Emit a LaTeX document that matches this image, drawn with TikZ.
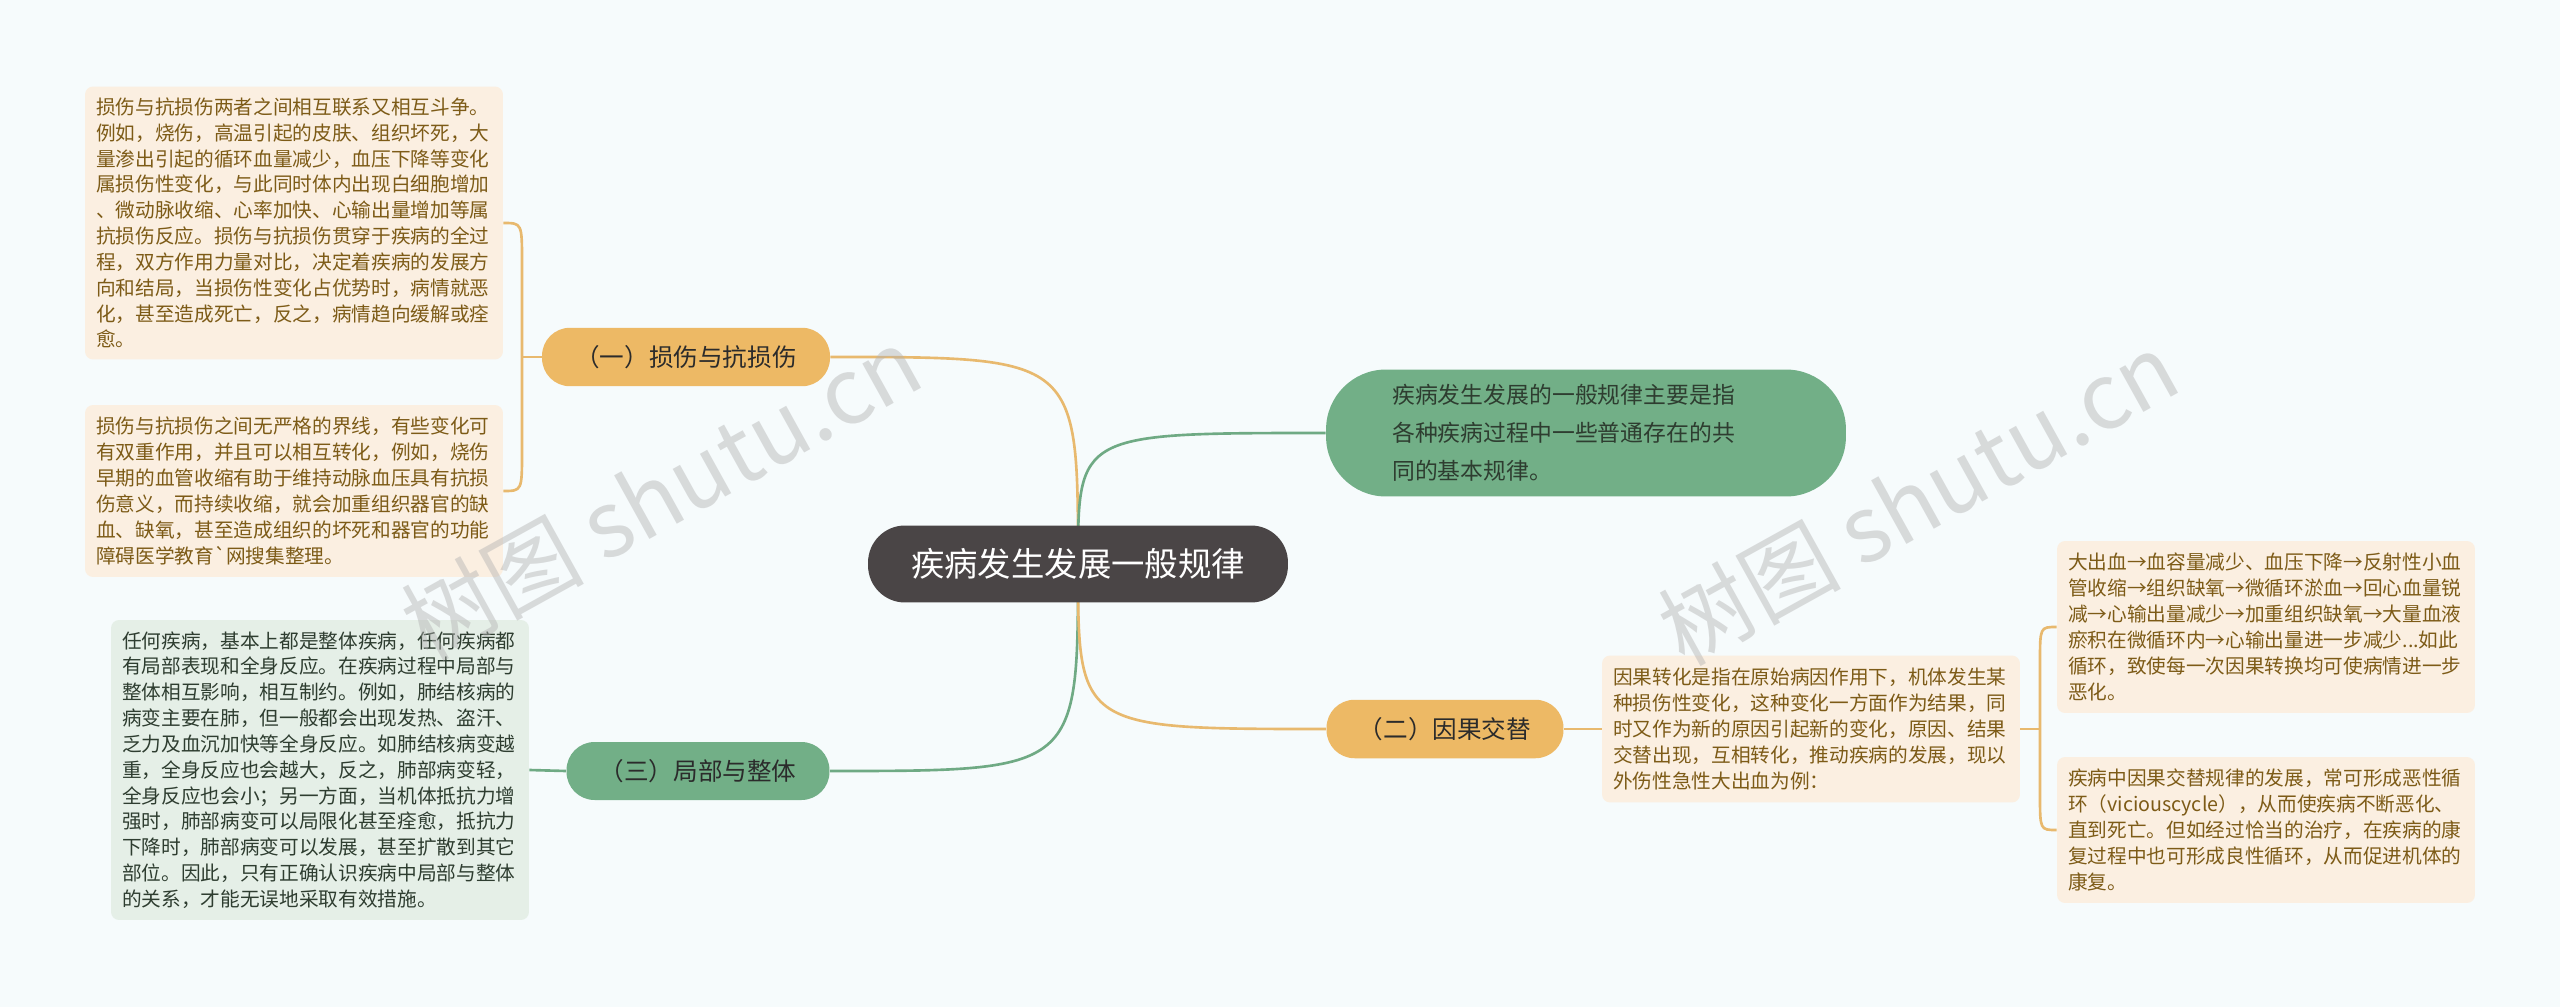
\documentclass[tikz,border=0pt]{standalone}
\usepackage{fontspec}
\setmainfont{Noto Sans CJK SC}
\usetikzlibrary{backgrounds}
\definecolor{bgc}{HTML}{F6FBFC}
\definecolor{rootc}{HTML}{4A4546}
\definecolor{orc}{HTML}{EDB965}
\definecolor{grc}{HTML}{72AF87}
\definecolor{orline}{HTML}{E8B96E}
\definecolor{grline}{HTML}{6FAA84}
\definecolor{leaforfill}{HTML}{FBEFE1}
\definecolor{leafortext}{HTML}{7D5B17}
\definecolor{leafgrfill}{HTML}{E5EFE7}
\definecolor{leafgrtext}{HTML}{2E3D30}
\definecolor{topictext}{HTML}{2B2B2B}

\begin{document}
\begin{tikzpicture}[x=0.02cm,y=-0.02cm,
  root/.style={fill=rootc,text=white,rounded corners=0.74cm,minimum width=8.4cm,minimum height=1.54cm,inner sep=0pt,font=\fontsize{19pt}{23pt}\selectfont},
  topicor/.style={fill=orc,text=topictext,rounded corners=0.56cm,minimum height=1.17cm,inner sep=0pt,font=\fontsize{14pt}{17pt}\selectfont},
  topicgr/.style={fill=grc,text=topictext,rounded corners=0.56cm,minimum height=1.16cm,inner sep=0pt,font=\fontsize{14pt}{17pt}\selectfont},
  leafor/.style={fill=leaforfill,text=leafortext,rounded corners=0.16cm,text width=7.92cm,inner xsep=0.22cm,inner ysep=0pt,align=left,font=\fontsize{11.2pt}{14.7pt}\selectfont},
  leafgr/.style={leafor,fill=leafgrfill,text=leafgrtext},
  lnor/.style={draw=orline,line width=1.5pt},
  lngr/.style={draw=grline,line width=1.5pt},
  mark text/.style={text=gray!60,opacity=0.45,rotate=29,font=\fontsize{52pt}{60pt}\selectfont}]

\begin{scope}[on background layer]
\useasboundingbox[fill=bgc] (0,0) rectangle (2560,1007);
\end{scope}

\node[root] (law) at (1078,564) {疾病发生发展一般规律};

\node[topicor,minimum width=5.76cm] (harm) at (686,357) {（一）损伤与抗损伤};
\node[topicor,minimum width=4.74cm] (cause) at (1445,729) {（二）因果交替};
\node[topicgr,minimum width=5.26cm] (whole) at (698,771) {（三）局部与整体};
\node[fill=grc,text=leafgrtext,rounded corners=1.2cm,minimum width=10.4cm,minimum height=2.54cm,text width=7.75cm,align=left,font=\fontsize{13pt}{21.6pt}\selectfont] (rule) at (1586,433)
  {疾病发生发展的一般规律主要是指\\各种疾病过程中一些普通存在的共\\同的基本规律。};

\node[leafor,minimum height=5.46cm] (harmA) at (294,223) {损伤与抗损伤两者之间相互联系又相互斗争。\\
例如，烧伤，高温引起的皮肤、组织坏死，大\\
量渗出引起的循环血量减少，血压下降等变化\\
属损伤性变化，与此同时体内出现白细胞增加\\
、微动脉收缩、心率加快、心输出量增加等属\\
抗损伤反应。损伤与抗损伤贯穿于疾病的全过\\
程，双方作用力量对比，决定着疾病的发展方\\
向和结局，当损伤性变化占优势时，病情就恶\\
化，甚至造成死亡，反之，病情趋向缓解或痊\\
愈。};
\node[leafor,minimum height=3.44cm] (harmB) at (294,491) {损伤与抗损伤之间无严格的界线，有些变化可\\
有双重作用，并且可以相互转化，例如，烧伤\\
早期的血管收缩有助于维持动脉血压具有抗损\\
伤意义，而持续收缩，就会加重组织器官的缺\\
血、缺氧，甚至造成组织的坏死和器官的功能\\
障碍医学教育\textasciigrave 网搜集整理。};
\node[leafgr,minimum height=6.0cm] (wholeA) at (320,770) {任何疾病，基本上都是整体疾病，任何疾病都\\
有局部表现和全身反应。在疾病过程中局部与\\
整体相互影响，相互制约。例如，肺结核病的\\
病变主要在肺，但一般都会出现发热、盗汗、\\
乏力及血沉加快等全身反应。如肺结核病变越\\
重，全身反应也会越大，反之，肺部病变轻，\\
全身反应也会小；另一方面，当机体抵抗力增\\
强时，肺部病变可以局限化甚至痊愈，抵抗力\\
下降时，肺部病变可以发展，甚至扩散到其它\\
部位。因此，只有正确认识疾病中局部与整体\\
的关系，才能无误地采取有效措施。};
\node[leafor,minimum height=2.94cm] (causeA) at (1811,729) {因果转化是指在原始病因作用下，机体发生某\\
种损伤性变化，这种变化一方面作为结果，同\\
时又作为新的原因引起新的变化，原因、结果\\
交替出现，互相转化，推动疾病的发展，现以\\
外伤性急性大出血为例：};
\node[leafor,minimum height=3.44cm] (causeB) at (2266,627) {大出血→血容量减少、血压下降→反射性小血\\
管收缩→组织缺氧→微循环淤血→回心血量锐\\
减→心输出量减少→加重组织缺氧→大量血液\\
瘀积在微循环内→心输出量进一步减少...如此\\
循环，致使每一次因果转换均可使病情进一步\\
恶化。};
\node[leafor,minimum height=2.92cm] (causeC) at (2266,830) {疾病中因果交替规律的发展，常可形成恶性循\\
环（viciouscycle），从而使疾病不断恶化、\\
直到死亡。但如经过恰当的治疗，在疾病的康\\
复过程中也可形成良性循环，从而促进机体的\\
康复。};

\coordinate (harmfork) at (522,357);
\coordinate (causefork) at (2040,729);

\begin{scope}[on background layer]
\draw[lnor] (law.center) .. controls (1078,357) .. (harm.east);
\draw[lngr] (law.center) .. controls (1078,433) .. (rule.west);
\draw[lngr] (law.center) .. controls (1078,771) .. (whole.east);
\draw[lnor] (law.center) .. controls (1078,729) .. (cause.west);
\draw[lnor] (harm.west) -- (harmfork);
\draw[lnor] (harmA.east) .. controls (522,223) .. (522,263) -- (522,451) .. controls (522,491) .. (harmB.east);
\draw[lngr] (whole.west) -- (wholeA.east);
\draw[lnor] (cause.east) -- (causeA.west);
\draw[lnor] (causeA.east) -- (causefork);
\draw[lnor] (causeB.west) .. controls (2040,627) .. (2040,662) -- (2040,795) .. controls (2040,830) .. (causeC.west);
\end{scope}

\node[mark text] (markL) at (661,493) {树图 shutu.cn};
\node[mark text] (markR) at (1918,498) {树图 shutu.cn};
\end{tikzpicture}
\end{document}
